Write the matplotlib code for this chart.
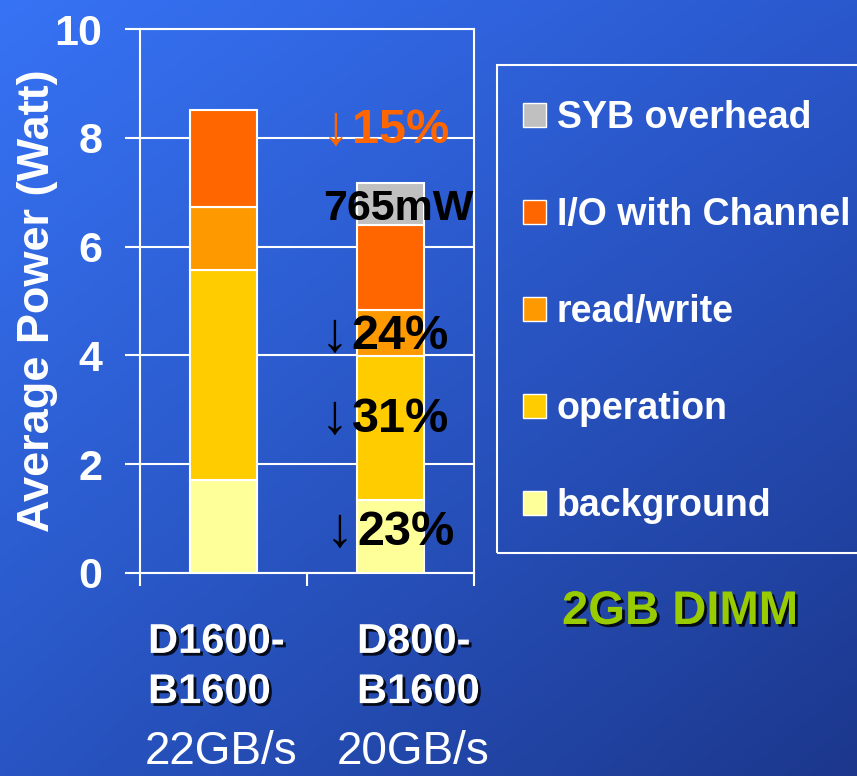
import matplotlib
matplotlib.use("Agg")
import matplotlib.pyplot as plt
import matplotlib.patheffects as pe
from matplotlib.patches import Rectangle, Patch
import numpy as np

# ---- data -------------------------------------------------------------
categories = ["D1600-\nB1600", "D800-\nB1600"]
bandwidths = ["22GB/s", "20GB/s"]
components = ["background", "operation", "read/write", "I/O with Channel", "SYB overhead"]
background = [1.71, 1.34]
operation = [3.86, 2.64]
read_write = [1.16, 0.85]
io_channel = [1.79, 1.57]
syb_overhead = [0.0, 0.765]
yticks = [0, 2, 4, 6, 8, 10]
reduction_labels = ["23%", "31%", "24%"]
total_reduction = "15%"
syb_label = "765mW"

# ---- style ------------------------------------------------------------
FONT = ["Liberation Sans", "DejaVu Sans"]
colors = ["#FFFF99", "#FFCC00", "#FF9900", "#FF6600", "#C0C0C0"]
W, H = 857, 776

fig = plt.figure(figsize=(W / 100, H / 100), dpi=100)

# blue slide backdrop
bg = fig.add_axes([0, 0, 1, 1], zorder=-10)
xx, yy = np.meshgrid(np.linspace(0, 1, 300), np.linspace(0, 1, 300))
tl = np.array([55, 115, 245]); tr = np.array([42, 88, 205])
bl = np.array([40, 85, 195]); br = np.array([28, 55, 140])
img = (tl * ((1 - xx) * (1 - yy))[..., None] + tr * (xx * (1 - yy))[..., None]
       + bl * ((1 - xx) * yy)[..., None] + br * (xx * yy)[..., None]) / 255
bg.imshow(img, aspect="auto", extent=[0, 1, 0, 1], origin="upper")
bg.axis("off")

ax = fig.add_axes([140 / W, 1 - 573 / H, 334 / W, 544 / H])
ax.set_facecolor("none")

x = np.arange(len(categories))
series = [background, operation, read_write, io_channel, syb_overhead]
bottom = np.zeros(len(categories))
for vals, col in zip(series, colors):
    vals = np.asarray(vals, dtype=float)
    m = vals > 0
    ax.bar(x[m], vals[m], width=0.4, bottom=bottom[m], color=col,
           edgecolor="white", linewidth=1.5, zorder=3)
    bottom += vals

ax.set_xlim(-0.5, 1.5)
ax.set_ylim(0, 10)
ax.set_axisbelow(True)
ax.grid(axis="y", color="white", linewidth=1.5)
for s in ax.spines.values():
    s.set_color("white")
    s.set_linewidth(1.5)

ax.set_yticks(yticks)
ax.set_yticklabels([str(v) for v in yticks], fontweight="bold",
                   family=FONT, fontsize=31, color="white")
ax.tick_params(axis="y", direction="out", length=11, width=1.5,
               color="white", pad=16)
ax.set_xticks([-0.5, 0.5, 1.5])
ax.set_xticklabels([])
ax.tick_params(axis="x", direction="out", length=9, width=1.5, color="white")

ax.set_ylabel("Average Power (Watt)", fontsize=32.5, fontweight="bold",
              color="white", family=FONT)
ax.yaxis.set_label_coords(-0.245, 0.5)

# reduction annotations on the second bar
arrow_x = [0.78, 0.746, 0.746]
label_y = [0.75, 2.83, 4.34]
for lab, xa, ya in zip(reduction_labels, arrow_x, label_y):
    ax.text(xa, ya, "\u2193", ha="right", va="center", fontsize=40,
            family=FONT, color="black", zorder=5)
    ax.text(xa + 0.02, ya, lab, ha="left", va="center", fontsize=35,
            fontweight="bold", family=FONT, color="black", zorder=5)
ax.text(0.752, 8.14, "\u2193", ha="right", va="center", fontsize=40,
        family=FONT, color="#FF6600", zorder=5)
ax.text(0.772, 8.14, total_reduction, ha="left", va="center", fontsize=35,
        fontweight="bold", family=FONT, color="#FF6600", zorder=5)
ax.text(1.048, 6.69, syb_label, ha="center", va="center", fontsize=31,
        fontweight="bold", family=FONT, color="black", zorder=5)

# category labels under the axis
shadow = [pe.withSimplePatchShadow(offset=(2, -2), shadow_rgbFace="black", alpha=0.85)]
cat_left = [148, 357]
bw_left = [145, 337]
for cat, bw, cx, bx in zip(categories, bandwidths, cat_left, bw_left):
    fig.text(cx / W, 1 - 667 / H, cat, ha="left", va="center", fontsize=30,
             fontweight="bold", family=FONT, color="white",
             linespacing=1.33, path_effects=shadow)
    fig.text(bx / W, 1 - 752 / H, bw, ha="left", va="center", fontsize=33,
             family=FONT, color="white")

fig.text(562 / W, 1 - 612 / H, "2GB DIMM", ha="left", va="center",
         fontsize=34, fontweight="bold", family=FONT, color="#99CC00",
         path_effects=shadow)

# legend, topmost component first
handles = [Patch(facecolor=c, edgecolor="white", linewidth=1)
           for c in colors[::-1]]
leg = fig.legend(handles, components[::-1], loc="upper left",
                 bbox_to_anchor=(523 / W, 1 - 100 / H), frameon=False,
                 prop=dict(family=FONT, weight="bold", size=27),
                 labelcolor="white", handlelength=0.6, handleheight=0.6,
                 handletextpad=0.3, labelspacing=1.63, borderaxespad=0,
                 borderpad=0)
fig.add_artist(Rectangle((497 / W, 1 - 553 / H), (880 - 497) / W, (553 - 65) / H,
                         transform=fig.transFigure, fill=False,
                         edgecolor="white", linewidth=1.5))

fig.savefig("out.png", dpi=100)
